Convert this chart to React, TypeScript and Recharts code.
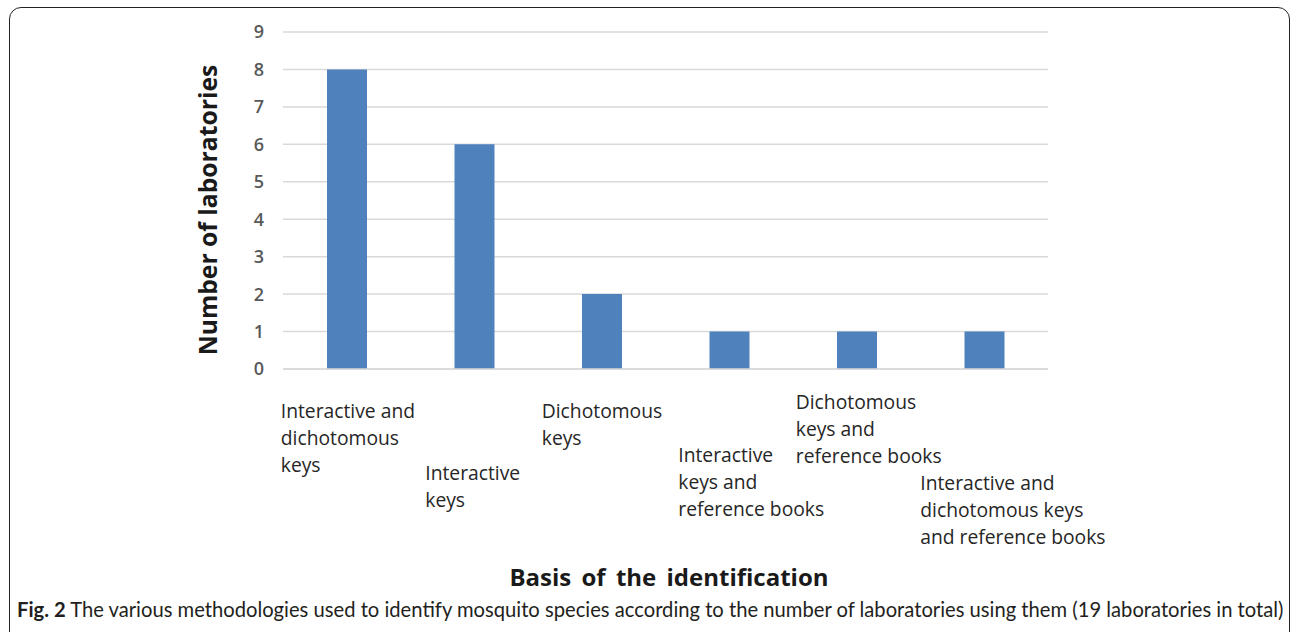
import React from "react";
import { BarChart, Bar, XAxis, YAxis, CartesianGrid } from "recharts";

const categories = [
  "Interactive and dichotomous keys",
  "Interactive keys",
  "Dichotomous keys",
  "Interactive keys and reference books",
  "Dichotomous keys and reference books",
  "Interactive and dichotomous keys and reference books",
];

const labCounts = [8, 6, 2, 1, 1, 1];

const yTicks = [0, 1, 2, 3, 4, 5, 6, 7, 8, 9];

// how Excel wrapped each category label
const categoryLines = [
  ["Interactive and", "dichotomous", "keys"],
  ["Interactive", "keys"],
  ["Dichotomous", "keys"],
  ["Interactive", "keys and", "reference books"],
  ["Dichotomous", "keys and", "reference books"],
  ["Interactive and", "dichotomous keys", "and reference books"],
];

const yTitle = "Number of laboratories";
const xTitle = "Basis of the identification";
const captionLead = "Fig. 2";
const captionText =
  " The various methodologies used to identify mosquito species according to the number of laboratories using them (19 laboratories in total)";

// label offsets from the tick position (staggered like the original)
const labelDx = [-66, -49, -60, -51, -61, -64];
const labelTop = [418, 480, 418, 462, 409, 490];

const data = categories.map((c, i) => ({ name: c, value: labCounts[i] }));

const SANS = "'Open Sans', 'DejaVu Sans', sans-serif";
const CAPTION = "Lato, 'DejaVu Sans', sans-serif";

function CategoryTick(props: any) {
  const { x, index } = props;
  const lines = categoryLines[index] || [];
  return (
    <g>
      {lines.map((ln, k) => (
        <text
          key={k}
          x={x + labelDx[index]}
          y={labelTop[index] + k * 27}
          fontSize={19.3}
          fontFamily={SANS}
          fill="#262626"
          textAnchor="start"
        >
          {ln}
        </text>
      ))}
    </g>
  );
}

export default function App() {
  return (
    <div
      style={{
        position: "absolute",
        left: 0,
        top: 0,
        width: 1292,
        height: 632,
        background: "#fff",
        overflow: "hidden",
      }}
    >
      <div
        style={{
          position: "absolute",
          left: 9,
          top: 7,
          width: 1281,
          height: 660,
          border: "1.5px solid #222",
          borderRadius: 12,
          boxSizing: "border-box",
        }}
      />
      <div style={{ position: "absolute", left: 0, top: 0 }}>
        <BarChart
          width={1292}
          height={632}
          data={data}
          margin={{ top: 32, right: 244, left: 213, bottom: 0 }}
        >
          <CartesianGrid vertical={false} stroke="#d9d9d9" strokeWidth={1.5} />
          <XAxis
            dataKey="name"
            height={263}
            axisLine={{ stroke: "#d9d9d9", strokeWidth: 1.5 }}
            tickLine={false}
            interval={0}
            tick={<CategoryTick />}
          />
          <YAxis
            width={70}
            domain={[0, 9]}
            ticks={yTicks}
            axisLine={false}
            tickLine={false}
            tickSize={0}
            tickMargin={19}
            tick={{ fontSize: 18, fontWeight: 600, fill: "#595959", fontFamily: SANS }}
          />
          <Bar dataKey="value" fill="#4F81BD" barSize={40} isAnimationActive={false} />
        </BarChart>
      </div>
      <svg
        width={1292}
        height={632}
        style={{ position: "absolute", left: 0, top: 0, pointerEvents: "none" }}
      >
        <text
          transform="translate(217,210) rotate(-90)"
          textAnchor="middle"
          fontSize={24.7}
          fontWeight="bold"
          fontFamily={SANS}
          fill="#1a1a1a"
        >
          {yTitle}
        </text>
        <text
          x={669}
          y={586}
          textAnchor="middle"
          fontSize={24}
          fontWeight="bold"
          fontFamily={SANS}
          fill="#1a1a1a"
          wordSpacing={4}
        >
          {xTitle}
        </text>
        <text x={17} y={617} fontSize={20.2} fontFamily={CAPTION} fill="#231f20">
          <tspan fontWeight="bold">{captionLead}</tspan>
          <tspan>{captionText}</tspan>
        </text>
      </svg>
    </div>
  );
}
